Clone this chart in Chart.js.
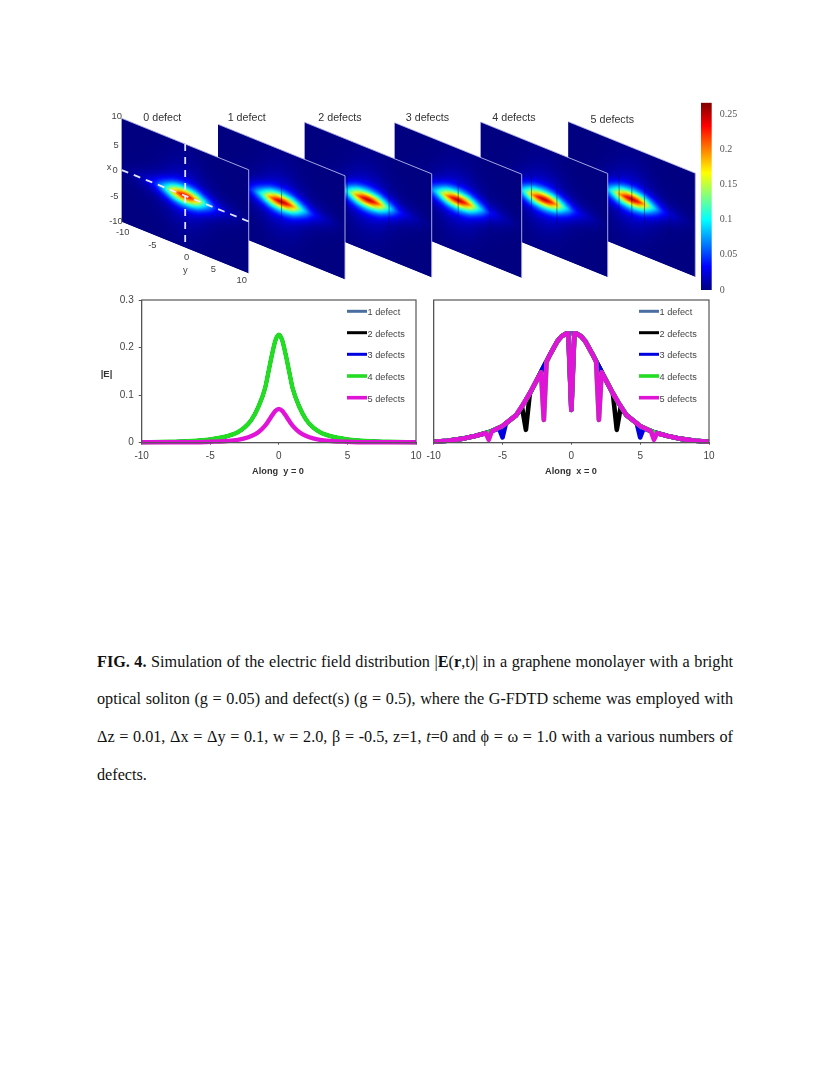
<!DOCTYPE html>
<html><head><meta charset="utf-8">
<script src="https://cdn.jsdelivr.net/npm/chart.js@4"></script>
<style>
html,body{margin:0;padding:0;background:#fff;width:830px;height:1075px;overflow:hidden}
canvas{position:absolute;filter:blur(.45px)}
.wrap{position:absolute}
.cap{position:absolute;left:97px;width:636px;font:16.2px/20px "Liberation Serif",serif;color:#111;text-align:justify;text-align-last:justify;white-space:nowrap}
</style></head><body>
<div class="wrap" style="left:0;top:90px;width:830px;height:210px"><canvas id="panels"></canvas></div>
<div class="wrap" style="left:695px;top:95px;width:60px;height:205px"><canvas id="cbar"></canvas></div>
<div class="wrap" style="left:100px;top:290px;width:330px;height:190px"><canvas id="left"></canvas></div>
<div class="wrap" style="left:425px;top:290px;width:300px;height:190px"><canvas id="right"></canvas></div>
<div class="cap" style="top:652px"><b>FIG. 4.</b> Simulation of the electric field distribution |<b>E</b>(<b>r</b>,t)| in a graphene monolayer with a bright</div>
<div class="cap" style="top:689px">optical soliton (g = 0.05) and defect(s) (g = 0.5), where the G-FDTD scheme was employed with</div>
<div class="cap" style="top:727px">Δz = 0.01, Δx = Δy = 0.1, w = 2.0, β = -0.5, z=1, <i>t</i>=0 and ϕ = ω = 1.0 with a various numbers of</div>
<div class="cap" style="top:765px;text-align-last:left">defects.</div>
<script>
// ---------- data ----------
const seriesLabels = ["1 defect","2 defects","3 defects","4 defects","5 defects"];
const seriesColors = ["#4a6ea0","#000000","#0000e0","#22dd22","#e014d6"];

// Along y = 0
const leftX   = [-10,-8,-6,-5,-4,-3,-2.5,-2,-1.5,-1,-0.75,-0.5,-0.25,0,0.25,0.5,0.75,1,1.5,2,2.5,3,4,5,6,8,10];
const leftAll = [.001,.002,.004,.007,.012,.022,.032,.048,.075,.115,.15,.185,.215,.227,.215,.185,.15,.115,.075,.048,.032,.022,.012,.007,.004,.002,.001];
const leftFive= [.001,.001,.001,.002,.003,.006,.009,.014,.022,.036,.046,.057,.067,.071,.067,.057,.046,.036,.022,.014,.009,.006,.003,.002,.001,.001,.001];

// Along x = 0
const rightX1 = [-10,-9,-8,-7,-6,-5,-4,-3.4,-3,-2.5,-2,-1.5,-1,-.7,-.4,0,.4,.7,1,1.5,2,2.5,3,3.4,4,5,6,7,8,9,10];
const rightY1 = [.002,.004,.008,.014,.022,.035,.058,.085,.105,.132,.16,.188,.214,.224,.229,.23,.229,.224,.214,.188,.16,.132,.105,.085,.058,.035,.022,.014,.008,.004,.002];
const rightX2 = [-10,-9,-8,-7,-6,-5,-4,-3.58,-3.3,-3.02,-2.5,-2,-1.5,-1,-.7,-.4,-.22,0,.22,.4,.7,1,1.5,2,2.5,3.02,3.3,3.58,4,5,6,7,8,9,10];
const rightY2 = [.002,.004,.008,.014,.022,.035,.058,.074,.027,.103,.132,.16,.188,.214,.224,.229,.23,.069,.23,.229,.224,.214,.188,.16,.132,.103,.027,.074,.058,.035,.022,.014,.008,.004,.002];
const rightX3 = [-10,-9,-8,-7,-6,-5.25,-5,-4.75,-4,-3.4,-3,-2.5,-2,-1.5,-1,-.7,-.4,-.22,0,.22,.4,.7,1,1.5,2,2.5,3,3.4,4,4.75,5,5.25,6,7,8,9,10];
const rightY3 = [.002,.004,.008,.014,.022,.03,.011,.041,.058,.085,.105,.132,.16,.188,.214,.224,.229,.23,.069,.23,.229,.224,.214,.188,.16,.132,.105,.085,.058,.041,.011,.03,.022,.014,.008,.004,.002];
const rightX4 = [-10,-9,-8,-7,-6,-5,-4,-3.4,-3,-2.5,-2.2,-2,-1.8,-1.5,-1,-.7,-.4,-.22,0,.22,.4,.7,1,1.5,1.8,2,2.2,2.5,3,3.4,4,5,6,7,8,9,10];
const rightY4 = [.002,.004,.008,.014,.022,.035,.058,.085,.105,.132,.148,.048,.17,.188,.214,.224,.229,.23,.069,.23,.229,.224,.214,.188,.17,.048,.148,.132,.105,.085,.058,.035,.022,.014,.008,.004,.002];
const rightX5 = [-10,-9,-8,-7,-6.22,-6,-5.78,-5,-4,-3.4,-3,-2.5,-2.2,-2,-1.8,-1.5,-1,-.7,-.4,-.22,0,.22,.4,.7,1,1.5,1.8,2,2.2,2.5,3,3.4,4,5,5.78,6,6.22,7,8,9,10];
const rightY5 = [.002,.004,.008,.014,.02,.006,.024,.035,.058,.085,.105,.132,.148,.048,.17,.188,.214,.224,.229,.23,.069,.23,.229,.224,.214,.188,.17,.048,.148,.132,.105,.085,.058,.035,.024,.006,.02,.014,.008,.004,.002];

// colour map panels
const panelLabels = ["0 defect","1 defect","2 defects","3 defects","4 defects","5 defects"];
const panelDefects = [[],[0],[-3.3,3.3],[-5,0,5],[-2,2],[-6,-2,0,2,6]];
const panelPeak = [.24,.25,.25,.25,.25,.25];
// relative field along the slanted y axis, y = -10..10 step .5
const heatAlong = [.01,.015,.02,.03,.04,.05,.065,.08,.1,.13,.165,.22,.3,.38,.48,.6,.74,.84,.92,.98,1,.98,.92,.84,.74,.6,.48,.38,.3,.22,.165,.13,.1,.08,.065,.05,.04,.03,.02,.015,.01];
// relative field across, x = 10..-10 step .5
const heatAcross = [.01,.012,.014,.016,.018,.02,.024,.028,.034,.04,.05,.06,.075,.1,.14,.21,.31,.46,.65,.85,1,.85,.65,.46,.31,.21,.14,.1,.075,.06,.05,.04,.034,.028,.024,.02,.018,.016,.014,.012,.01];
const colorMax = 0.266;
const colorTicks = [0,.05,.1,.15,.2,.25];

// ---------- layout ----------
const SANS='"Liberation Sans",Arial,sans-serif';
const panelOrigin = [[121.7,118.3],[218,124.3],[304.7,122.3],[394.7,122.7],[480.7,122],[568.3,121.7]];
const panelW=127, panelDrop=51.5, panelH=103.5;
const titlePos = [[162.3,118],[246.7,118.5],[340,118.5],[427.5,118.5],[514,118.5],[612.3,120.5]];
const axisTexts = [["10",116.7,116.7],["5",116,145],["x",109,167.3],["0",115,170.5],["-5",114.3,196.7],["-10",116,221.7],
  ["-10",122.7,232.7],["-5",152.3,245],["0",186.7,257.7],["y",185.3,270],["5",213.3,269],["10",241.7,280]];

function jet(v){
  const t=Math.max(0,Math.min(1,v/colorMax));
  const c=x=>Math.round(255*Math.max(0,Math.min(1,1.5-Math.abs(4*t-x))));
  return [c(3),c(2),c(1)];
}
function css(a){return `rgb(${a[0]},${a[1]},${a[2]})`}

const panelPlugin={id:'panelPlugin',afterDraw(chart){
  const ctx=chart.ctx, sx=chart.scales.x, sy=chart.scales.y;
  const pt=(i,y,x)=>{
    const [L,T]=panelOrigin[i];
    const u=(y+10)/20, v=(10-x)/20;
    return [sx.getPixelForValue(L+u*panelW), sy.getPixelForValue(T+u*panelDrop+v*panelH)];
  };
  for(let i=panelLabels.length-1;i>=0;i--){
    const tl=pt(i,-10,10),tr=pt(i,10,10),br=pt(i,10,-10),bl=pt(i,-10,-10);
    ctx.save();
    ctx.beginPath();ctx.moveTo(...tl);ctx.lineTo(...tr);ctx.lineTo(...br);ctx.lineTo(...bl);ctx.closePath();
    ctx.fillStyle=css(jet(0));ctx.fill();ctx.clip();
    const n=heatAlong.length,m=heatAcross.length;
    const off=document.createElement('canvas');off.width=n;off.height=m;
    const oc=off.getContext('2d'),img=oc.createImageData(n,m);
    heatAcross.forEach((a,r)=>heatAlong.forEach((b,q)=>{
      const col=jet(panelPeak[i]*a*b),k=4*(r*n+q);
      img.data[k]=col[0];img.data[k+1]=col[1];img.data[k+2]=col[2];img.data[k+3]=255;
    }));
    oc.putImageData(img,0,0);
    ctx.imageSmoothingEnabled=true;ctx.imageSmoothingQuality='high';
    ctx.transform((tr[0]-tl[0])/n,(tr[1]-tl[1])/n,(bl[0]-tl[0])/m,(bl[1]-tl[1])/m,tl[0],tl[1]);
    ctx.drawImage(off,0,0);
    ctx.restore();
    // defect lines
    ctx.save();ctx.strokeStyle='rgba(0,0,90,.42)';ctx.lineWidth=1.1;
    panelDefects[i].forEach(d=>{const a=pt(i,d,3.8),b=pt(i,d,-3.8);ctx.beginPath();ctx.moveTo(...a);ctx.lineTo(...b);ctx.stroke();});
    ctx.restore();
    // lit edges
    ctx.save();ctx.strokeStyle='#b9b9ec';ctx.lineWidth=.9;
    ctx.beginPath();ctx.moveTo(...tl);ctx.lineTo(...tr);ctx.lineTo(...br);ctx.stroke();ctx.restore();
    if(i===0){
      ctx.save();ctx.strokeStyle='rgba(238,238,255,.95)';ctx.lineWidth=1.8;ctx.setLineDash([7,6]);
      let a=pt(0,-10,0),b=pt(0,10,0);ctx.beginPath();ctx.moveTo(...a);ctx.lineTo(...b);ctx.stroke();
      a=pt(0,0,10);b=pt(0,0,-10);ctx.beginPath();ctx.moveTo(...a);ctx.lineTo(...b);ctx.stroke();
      ctx.restore();
    }
  }
  ctx.save();ctx.textAlign='center';ctx.textBaseline='middle';ctx.fillStyle='#333';
  ctx.font='10.7px '+SANS;
  panelLabels.forEach((t,i)=>ctx.fillText(t,sx.getPixelForValue(titlePos[i][0]),sy.getPixelForValue(titlePos[i][1])));
  ctx.font='9.4px '+SANS;ctx.fillStyle='#444';
  axisTexts.forEach(a=>ctx.fillText(a[0],sx.getPixelForValue(a[1]),sy.getPixelForValue(a[2])));
  ctx.restore();
}};
new Chart(document.getElementById('panels'),{type:'scatter',
  data:{datasets:panelLabels.map(label=>({label,data:[]}))},
  options:{responsive:true,maintainAspectRatio:false,animation:false,layout:{padding:0},
    plugins:{legend:{display:false},tooltip:{enabled:false}},
    scales:{x:{type:'linear',min:0,max:830,display:false},y:{type:'linear',min:90,max:300,reverse:true,display:false}}},
  plugins:[panelPlugin]});

// colour bar
new Chart(document.getElementById('cbar'),{type:'bar',
  data:{labels:['|E|'],datasets:[{data:[[0,colorMax]],barPercentage:1,categoryPercentage:1,
    backgroundColor(c){
      const a=c.chart.chartArea; if(!a) return '#00008f';
      const g=c.chart.ctx.createLinearGradient(0,a.bottom,0,a.top);
      for(let k=0;k<=32;k++) g.addColorStop(k/32,css(jet(colorMax*k/32)));
      return g;
    }}]},
  options:{responsive:true,maintainAspectRatio:false,animation:false,
    layout:{padding:{left:6,top:7.7,bottom:10,right:0}},
    plugins:{legend:{display:false},tooltip:{enabled:false}},
    scales:{x:{display:false},
      y:{position:'right',min:0,max:colorMax,grid:{display:false},border:{display:false},
        afterBuildTicks(s){s.ticks=colorTicks.map(value=>({value}))},
        afterFit(s){s.width=43.3},
        ticks:{padding:0,color:'#555',font:{family:'"Liberation Serif",serif',size:10},callback:v=>String(v)}}}}});

// line charts
const legendY=[21.3,42.7,64.3,86,107.7];
function legendFramePlugin(x0,x1,yLabel){return {id:'lf',afterDatasetsDraw(chart){
  const ctx=chart.ctx,a=chart.chartArea;
  ctx.save();ctx.strokeStyle='#555';ctx.lineWidth=1.2;ctx.strokeRect(a.left,a.top,a.right-a.left,a.bottom-a.top);
  ctx.font='9.2px '+SANS;ctx.textBaseline='middle';ctx.textAlign='left';
  chart.data.datasets.forEach((d,i)=>{
    ctx.strokeStyle=d.borderColor;ctx.lineWidth=i>2?3.6:3;ctx.lineCap='butt';
    ctx.beginPath();ctx.moveTo(x0,legendY[i]);ctx.lineTo(x1,legendY[i]);ctx.stroke();
    ctx.fillStyle='#444';ctx.fillText(d.label,x1+.5,legendY[i]+1.5);
  });
  if(yLabel){ctx.font='bold 9.5px '+SANS;ctx.fillStyle='#333';ctx.textAlign='center';ctx.fillText(yLabel,6.5,84.5);}
  ctx.restore();
}}}
function series(xs,ys,i,width,smooth){return {label:seriesLabels[i],borderColor:seriesColors[i],backgroundColor:seriesColors[i],
  data:xs.map((x,k)=>({x,y:ys[k]})),borderWidth:width,pointRadius:0,
  cubicInterpolationMode:smooth?'monotone':'default',tension:0,
  borderJoinStyle:'round',clip:false,order:5-i}}
function lineOpts(yLabels,padL,padR){return {responsive:true,maintainAspectRatio:false,animation:false,
  layout:{padding:{left:padL,right:padR,top:10,bottom:0}},
  plugins:{legend:{display:false},tooltip:{enabled:false}},
  scales:{
    x:{type:'linear',min:-10,max:10,afterFit(s){s.height=37.3;s.paddingLeft=0;s.paddingRight=0},
      grid:{drawOnChartArea:false,tickLength:2,color:'#555'},border:{color:'#555'},
      ticks:{stepSize:5,padding:6,maxRotation:0,color:'#444',font:{family:SANS,size:10},callback:v=>String(v)},
      title:{display:false}},
    y:{min:0,max:.3,afterFit(s){s.width=yLabels?41.7:0;s.paddingTop=0;s.paddingBottom=0},
      grid:{drawOnChartArea:false,tickLength:yLabels?3:0,color:'#555'},border:{color:'#555'},
      ticks:{display:yLabels,stepSize:.1,padding:5,color:'#444',font:{family:SANS,size:10},callback:v=>v===0?'0':v.toFixed(1)},
      title:{display:false}}
  }}}
function axisTitle(text,cx){return {id:'at',afterDraw(chart){
  const ctx=chart.ctx;ctx.save();ctx.font='bold 9.2px '+SANS;ctx.fillStyle='#333';ctx.textAlign='center';ctx.textBaseline='middle';
  ctx.fillText(text,cx,181);ctx.restore();}}}
new Chart(document.getElementById('left'),{type:'line',
  data:{datasets:[series(leftX,leftAll,0,3.4,true),series(leftX,leftAll,1,3.4,true),series(leftX,leftAll,2,3.4,true),series(leftX,leftAll,3,4.4,true),series(leftX,leftFive,4,4.4,true)]},
  options:lineOpts(true,0,14),plugins:[legendFramePlugin(247,267,'|E|'),axisTitle('Along  y = 0',178)]});
new Chart(document.getElementById('right'),{type:'line',
  data:{datasets:[series(rightX1,rightY1,0,4.6),series(rightX2,rightY2,1,4.6),series(rightX3,rightY3,2,4.6),series(rightX4,rightY4,3,4.6),series(rightX5,rightY5,4,4.6)]},
  options:lineOpts(false,8.7,16),plugins:[legendFramePlugin(214,234),axisTitle('Along  x = 0',146)]});
</script>
</body></html>
